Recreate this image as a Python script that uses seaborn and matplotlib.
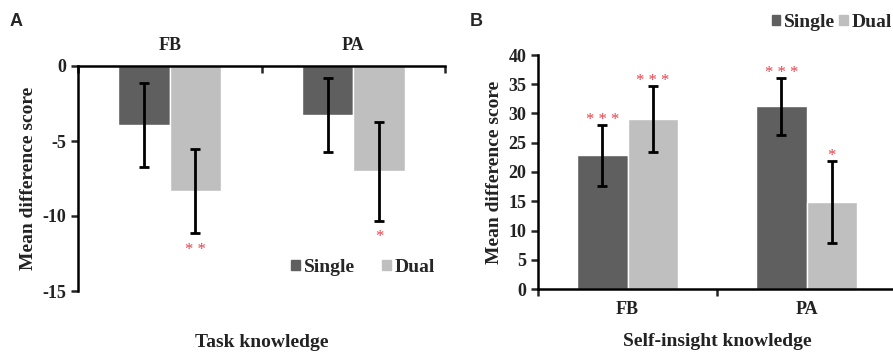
import matplotlib.pyplot as plt
import numpy as np
import pandas as pd
import seaborn as sns
from matplotlib.patches import Patch

conditions = ["FB", "PA"]
groups = ["Single", "Dual"]

# panel A: task knowledge
task_single = [-3.9, -3.25]
task_dual = [-8.35, -7.0]
task_single_err = [2.8, 2.45]
task_dual_err = [2.8, 3.3]
task_stars = {"Single": ["", ""], "Dual": ["* *", "*"]}

# panel B: self-insight knowledge
insight_single = [22.85, 31.2]
insight_dual = [29.05, 14.85]
insight_single_err = [5.2, 4.8]
insight_dual_err = [5.65, 6.95]
insight_stars = {"Single": ["* * *", "* * *"], "Dual": ["* * *", "*"]}

colors = {"Single": "#5f5f5f", "Dual": "#bfbfbf"}
star_color = "#e8404a"
text_color = "#222222"

sns.set_style("ticks")
plt.rcParams["font.family"] = ["Liberation Serif", "DejaVu Serif"]
plt.rcParams["font.weight"] = "bold"
plt.rcParams["axes.unicode_minus"] = False

fig = plt.figure(figsize=(8.93, 3.56), dpi=100)
axA = fig.add_axes([78 / 893, 1 - 291 / 356, 367 / 893, 225 / 356])
axB = fig.add_axes([538 / 893, 1 - 289 / 356, 358 / 893, 234 / 356])


def make_df(single, dual):
    return pd.DataFrame({
        "condition": conditions * 2,
        "group": ["Single"] * 2 + ["Dual"] * 2,
        "score": single + dual,
    })


def draw(ax, single, dual, errs, stars, below):
    df = make_df(single, dual)
    sns.barplot(data=df, x="condition", y="score", hue="group",
                hue_order=groups, palette=colors, width=0.56, gap=0,
                errorbar=None, legend=False, saturation=1, ax=ax)
    for container, g in zip(ax.containers, groups):
        for bar, e, s in zip(container.patches, errs[g], stars[g]):
            cx = bar.get_x() + bar.get_width() / 2
            val = bar.get_y() + bar.get_height()
            ax.errorbar(cx, val, yerr=e, color="black", lw=2,
                        capsize=3.5, capthick=2)
            if s:
                tip = val - e if below else val + e
                off = -15 if below else 1
                ax.annotate(s, (cx, tip), xytext=(0, off),
                            textcoords="offset points", ha="center",
                            va="baseline", color=star_color, fontsize=12,
                            fontweight="normal")
    ax.set_xlim(-0.5, 1.5)
    ax.set_xticks([-0.5, 0.5, 1.5], minor=True)
    ax.set_ylabel("Mean difference score", fontsize=14, fontweight="bold",
                  color=text_color)
    for sp in ax.spines.values():
        sp.set_linewidth(1.8)
        sp.set_color("black")


def bold_ticks(ax):
    for lab in ax.get_yticklabels():
        lab.set_fontweight("bold")
        lab.set_fontsize(13)
        lab.set_color(text_color)
    for t in ax.xaxis.get_major_ticks():
        for lab in (t.label1, t.label2):
            lab.set_fontweight("bold")
            lab.set_fontsize(13)
            lab.set_color(text_color)


# ---- panel A
draw(axA, task_single, task_dual,
     {"Single": task_single_err, "Dual": task_dual_err}, task_stars, True)
axA.set_ylim(-15, 0)
axA.set_yticks([0, -5, -10, -15])
axA.spines["bottom"].set_visible(False)
axA.spines["right"].set_visible(False)
axA.xaxis.set_ticks_position("top")
axA.tick_params(axis="x", which="major", length=0, pad=9)
axA.tick_params(axis="x", which="minor", direction="in", length=5, width=1.8)
axA.tick_params(axis="y", length=5, width=1.8, direction="out")
axA.set_xlabel("Task knowledge", fontsize=14, fontweight="bold", color=text_color)
axA.xaxis.set_label_position("bottom")
axA.xaxis.set_label_coords(0.5, -0.19)
bold_ticks(axA)
axA.legend(handles=[Patch(color=colors[g], label=g) for g in groups],
           loc="lower right", bbox_to_anchor=(1.02, -0.01), frameon=False,
           ncol=2, handlelength=0.45, handleheight=0.45, handletextpad=0.2,
           columnspacing=1.4, prop={"weight": "bold", "size": 14})

# ---- panel B
draw(axB, insight_single, insight_dual,
     {"Single": insight_single_err, "Dual": insight_dual_err}, insight_stars, False)
axB.set_ylim(0, 40)
axB.set_yticks(np.arange(0, 41, 5))
axB.spines["top"].set_visible(False)
axB.spines["right"].set_visible(False)
axB.tick_params(axis="x", which="major", length=0, pad=9)
axB.tick_params(axis="x", which="minor", direction="out", length=5, width=1.8)
axB.tick_params(axis="y", length=5, width=1.8, direction="out")
axB.set_xlabel("Self-insight knowledge", fontsize=14, fontweight="bold", color=text_color)
axB.xaxis.set_label_coords(0.5, -0.19)
bold_ticks(axB)
fig.legend(handles=[Patch(color=colors[g], label=g) for g in groups],
           loc="upper left", bbox_to_anchor=(754 / 893, 1.01), frameon=False,
           ncol=2, handlelength=0.45, handleheight=0.45, handletextpad=0.2,
           columnspacing=0.2, prop={"weight": "bold", "size": 14})

fig.text(10 / 893, 1 - 21 / 356, "A", family="Liberation Sans",
         fontweight="bold", fontsize=13, va="center")
fig.text(470 / 893, 1 - 21 / 356, "B", family="Liberation Sans",
         fontweight="bold", fontsize=13, va="center")

fig.savefig("out.png", dpi=100)
